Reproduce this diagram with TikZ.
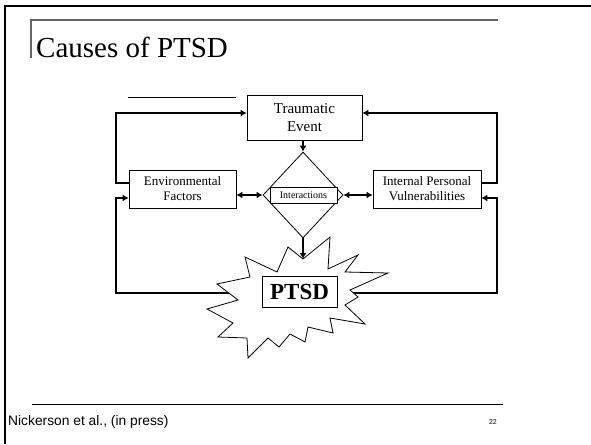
\documentclass[tikz,border=0pt]{standalone}
\usepackage{fontspec}
\setmainfont{Liberation Serif}
\newfontfamily\footfont{Liberation Sans}
\usetikzlibrary{arrows.meta,shapes.geometric}

\tikzset{
    box/.style={draw, line width=0.8pt, align=center, inner sep=0pt},
    link/.style={line width=2.5pt, -{Latex[length=6pt,width=7pt]}},
    twolink/.style={line width=2.5pt, {Latex[length=6pt,width=7pt]}-{Latex[length=6pt,width=7pt]}},
    burstline/.style={draw, line width=0.8pt, fill=white, line join=miter},
}

\begin{document}
\begin{tikzpicture}[x=1pt,y=-1pt]
    \useasboundingbox (0,0) rectangle (591,444);

    \draw[line width=2pt] (5,444) -- (5,6) -- (591,6);
    \draw[line width=1.5pt, black!60] (31,58) -- (31,20) -- (498,20);
    \node[anchor=base west, inner sep=0pt, font=\fontsize{29}{34}\selectfont] (title) at (36,57) {Causes of PTSD};

    \draw[line width=0.8pt] (32,404) -- (503,404);
    \node[anchor=base west, inner sep=0pt, font=\footfont\fontsize{13.8}{16}\selectfont] (cite) at (8,425) {Nickerson et al., (in press)};
    \node[anchor=base east, inner sep=0pt, font=\footfont\fontsize{7}{8}\selectfont] (page) at (497,424) {22};

    \draw[line width=0.8pt] (128,97) -- (236,97);

    \coordinate (westrail) at (116,0);
    \coordinate (eastrail) at (497,0);
    \coordinate (burst) at (299.5,291.5);
    \coordinate (burstN) at (303,259);
    \coordinate (burstW) at (236,293);
    \coordinate (burstE) at (352,293);

    \node[box, minimum width=115pt, minimum height=45pt, font=\fontsize{15}{18}\selectfont] (trauma) at (304.5,117.5) {Traumatic\\Event};
    \node[box, minimum width=107pt, minimum height=38pt, font=\fontsize{13}{15}\selectfont] (env) at (182.5,189) {Environmental\\Factors};
    \node[box, minimum width=108pt, minimum height=38pt, font=\fontsize{13}{15}\selectfont] (vuln) at (427,189) {Internal Personal\\Vulnerabilities};
    \node[diamond, draw, line width=0.8pt, minimum width=80pt, minimum height=86pt, inner sep=0pt] (inter) at (303,195) {};
    \node[box, minimum width=67pt, minimum height=16pt, fill=white, font=\fontsize{10}{12}\selectfont] (interbox) at (303.5,195) {Interactions};

    \draw[link] (trauma.south -| inter.north) -- (inter.north);
    \draw[twolink] (env.east |- inter.west) -- (inter.west);
    \draw[twolink] (inter.east) -- (vuln.west |- inter.east);
    \draw[link] ([yshift=6pt]env.west) -- ([yshift=6pt]env.west -| westrail) |- ([yshift=4.5pt]trauma.west);
    \draw[link] ([yshift=6pt]vuln.east) -- ([yshift=6pt]vuln.east -| eastrail) |- ([yshift=4.5pt]trauma.east);
    \draw[link] (burstW) -- (burstW -| westrail) |- ([yshift=-9pt]env.west);
    \draw[link] (burstE) -- (burstE -| eastrail) |- ([yshift=-9pt]vuln.east);

    \begin{scope}[shift={(burst)}]
        \path[burstline] (3.5,-32.5) -- (30.5,-54.5) -- (28.5,-22.5) -- (58.5,-36.5)
            -- (45.5,-19.5) -- (88.5,-18.5) -- (50.5,-1.5) -- (58.5,5.5) -- (45.5,13.5)
            -- (65.5,32.5) -- (30.5,26.5) -- (33.5,41.5) -- (8.5,35.5) -- (5.5,50.5)
            -- (-9.5,42.5) -- (-20.5,55.5) -- (-31.5,46.5) -- (-51.5,66.5) -- (-52.5,46.5)
            -- (-81.5,45.5) -- (-66.5,31.5) -- (-92.5,17.5) -- (-61.5,8.5) -- (-82.5,-7.5)
            -- (-49.5,-14.5) -- (-54.5,-34.5) -- (-22.5,-19.5) -- (-11.5,-44.5) -- cycle;
    \end{scope}
    \node[box, minimum width=75pt, minimum height=31pt, font=\bfseries\fontsize{23}{27}\selectfont] (ptsd) at (burst) {PTSD};

    \draw[link] (inter.south) -- (burstN);
\end{tikzpicture}
\end{document}
